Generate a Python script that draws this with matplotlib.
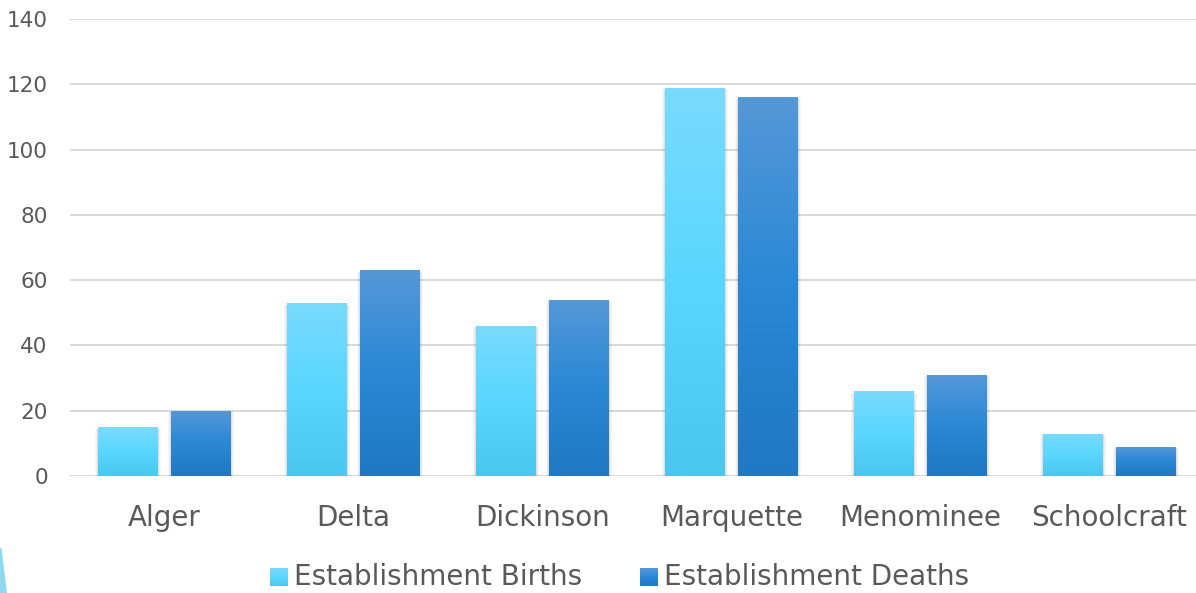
import matplotlib.pyplot as plt
import numpy as np
from matplotlib.patches import Rectangle, Polygon
from matplotlib.colors import LinearSegmentedColormap

# data
counties = ["Alger", "Delta", "Dickinson", "Marquette", "Menominee", "Schoolcraft"]
births = [15, 53, 46, 119, 26, 13]
deaths = [20, 63, 54, 116, 31, 9]
series_names = ["Establishment Births", "Establishment Deaths"]
y_ticks = [0, 20, 40, 60, 80, 100, 120, 140]

# gradient colours (bottom, middle, top)
births_cmap = LinearSegmentedColormap.from_list("b", ["#4BC6EE", "#5AD6FF", "#79DBFD"])
deaths_cmap = LinearSegmentedColormap.from_list("d", ["#1F78C2", "#2A88D5", "#5598D8"])

W, H = 1196, 593
fig = plt.figure(figsize=(W / 100, H / 100), dpi=100)

# axes placed in pixel terms
left, right, bottom, top = 70, 1196, 476, 19
ax = fig.add_axes([left / W, (H - bottom) / H, (right - left) / W, (bottom - top) / H])
cat_w = 189

for s in ax.spines.values():
    s.set_visible(False)
ax.set_yticks(y_ticks)
ax.yaxis.grid(True, color="#D9D9D9", linewidth=1.4)
ax.set_axisbelow(True)
ax.tick_params(axis="y", length=0, pad=16, labelsize=15.5, labelcolor="#595959")
ax.set_xticks(range(len(counties)))
ax.set_xticklabels(counties)
ax.tick_params(axis="x", length=0, pad=20, labelsize=20, labelcolor="#595959")

bw = 60 / cat_w
off = 36.5 / cat_w
grad = np.linspace(0, 1, 256).reshape(-1, 1)


def grad_bar(x, h, cmap):
    # soft shadow, mostly on the sides and bottom
    for k, a in [(0.014, 0.03), (0.009, 0.04), (0.004, 0.06)]:
        ax.add_patch(Rectangle((x - bw / 2 - k, -1.4), bw + 2 * k, h + 1.4 - 0.5,
                               facecolor="#000000", alpha=a, edgecolor="none", zorder=2))
    bar = ax.bar(x, h, width=bw, color="none", edgecolor="none", zorder=3)[0]
    im = ax.imshow(grad, cmap=cmap, extent=[x - bw / 2, x + bw / 2, 0, h],
                   origin="lower", aspect="auto", zorder=3)
    im.set_clip_path(bar)


for i in range(len(counties)):
    grad_bar(i - off, births[i], births_cmap)
    grad_bar(i + off, deaths[i], deaths_cmap)

ax.set_xlim(-0.5, -0.5 + (right - left) / cat_w)
ax.set_ylim(0, 140)

# legend drawn by hand with gradient squares
legend_y = 577
items = [(270, births_cmap, series_names[0]), (640, deaths_cmap, series_names[1])]
for x0, cmap, name in items:
    lax = fig.add_axes([x0 / W, (H - legend_y - 9) / H, 18 / W, 18 / H])
    lax.imshow(grad, cmap=cmap, origin="lower", aspect="auto")
    lax.axis("off")
    fig.text((x0 + 24) / W, (H - legend_y) / H, name, fontsize=20, color="#595959",
             va="center", ha="left")

# slide decoration wedge bottom-left
fig.patches.append(Polygon([(0, (H - 548) / H), (1.5 / W, (H - 548) / H),
                            (7 / W, 0), (0, 0)], closed=True,
                           transform=fig.transFigure, facecolor="#8FD9F0",
                           edgecolor="none"))

fig.savefig("out.png", dpi=100)
